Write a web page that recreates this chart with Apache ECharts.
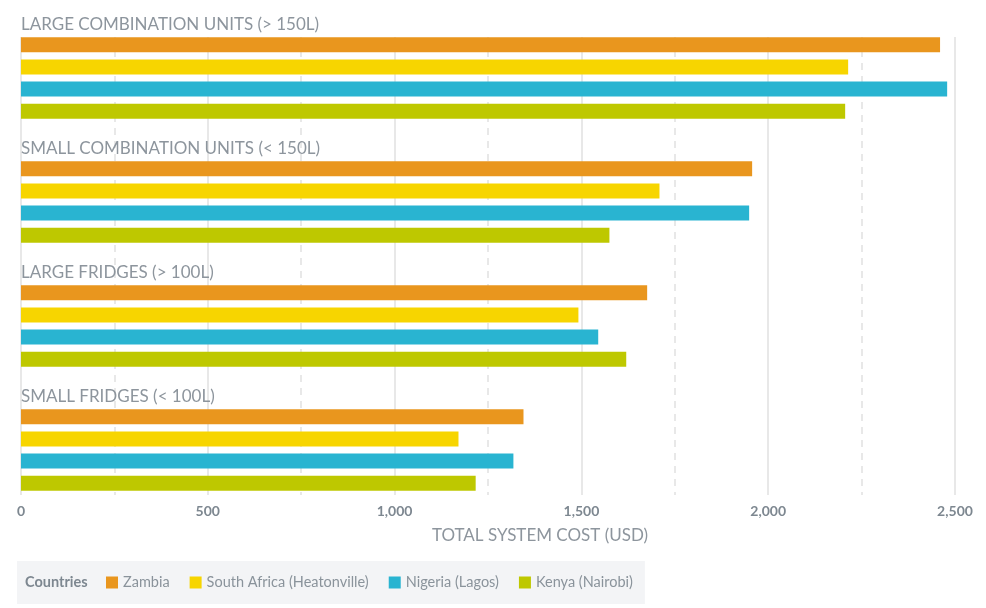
<!DOCTYPE html>
<html><head><meta charset="utf-8">
<script src="https://cdn.jsdelivr.net/npm/echarts@6/dist/echarts.min.js"></script>
<style>html,body{margin:0;padding:0;background:#fff}#c{width:986px;height:608px}</style>
</head><body><div id="c"></div>
<script>
const categories = ['LARGE COMBINATION UNITS (> 150L)', 'SMALL COMBINATION UNITS (< 150L)', 'LARGE FRIDGES (> 100L)', 'SMALL FRIDGES (< 100L)'];
const seriesNames = ['Zambia', 'South Africa (Heatonville)', 'Nigeria (Lagos)', 'Kenya (Nairobi)'];
const zambia = [2460, 1957, 1676, 1345];
const southAfrica = [2214, 1709, 1492, 1171];
const nigeria = [2479, 1949, 1545, 1318];
const kenya = [2206, 1575, 1620, 1217];
const xTicks = [0, 500, 1000, 1500, 2000, 2500];
const colors = ['#E9961E', '#F7D500', '#29B4D1', '#BEC800'];

const FONT = 'Lato';
const values = [zambia, southAfrica, nigeria, kenya];
const chart = echarts.init(document.getElementById('c'), null, {renderer: 'canvas'});
const series = seriesNames.map((n, i) => ({
  name: n, type: 'bar', xAxisIndex: 1, yAxisIndex: 1,
  data: values[i], barWidth: 15, barGap: '48%',
  itemStyle: {color: colors[i]},
  label: i === 0 ? {
    show: true, position: [0, -23], formatter: '{b}',
    color: '#8d959d', fontSize: 17, fontFamily: FONT, fontWeight: 'normal', lineHeight: 20
  } : {show: false},
  emphasis: {disabled: true}
}));
chart.setOption({
  animation: false,
  textStyle: {fontFamily: FONT},
  title: {text: 'Countries', left: 25, top: 575, padding: 0, textStyle: {color: '#7d8790', fontSize: 14.5, fontWeight: 'bold', fontFamily: FONT}},
  legend: {
    data: seriesNames, left: 17, top: 561, padding: [14, 12, 14, 89],
    backgroundColor: '#f3f4f6', itemWidth: 12, itemHeight: 12, itemGap: 20, icon: 'rect',
    textStyle: {color: '#8a939b', fontSize: 14.5, fontFamily: FONT}
  },
  grid: [
    {left: 21, right: 31, top: 37, height: 458},
    {left: 21, right: 31, top: 16, height: 496}
  ],
  xAxis: [
    {type: 'value', gridIndex: 0, min: xTicks[0], max: xTicks[xTicks.length - 1], interval: 500,
     axisLine: {show: false}, axisTick: {show: false},
     axisLabel: {color: '#7d8790', fontSize: 14, fontWeight: 'bold', fontFamily: FONT, margin: 9,
       formatter: v => v.toLocaleString('en-US')},
     splitLine: {show: true, lineStyle: {color: '#e8e8e8', width: 2}},
     minorTick: {show: false, splitNumber: 2},
     minorSplitLine: {show: true, lineStyle: {color: '#e8e8e8', width: 2, type: [7, 6]}},
     name: 'TOTAL SYSTEM COST (USD)', nameLocation: 'middle', nameGap: 32,
     nameTextStyle: {color: '#8d959d', fontSize: 17, fontFamily: FONT, padding: [0, 0, 0, 104]}},
    {type: 'value', gridIndex: 1, min: xTicks[0], max: xTicks[xTicks.length - 1], show: false, splitLine: {show: false}}
  ],
  yAxis: [
    {type: 'category', gridIndex: 0, data: categories, show: false},
    {type: 'category', gridIndex: 1, data: categories, inverse: true, show: false}
  ],
  series: series
});
</script></body></html>
